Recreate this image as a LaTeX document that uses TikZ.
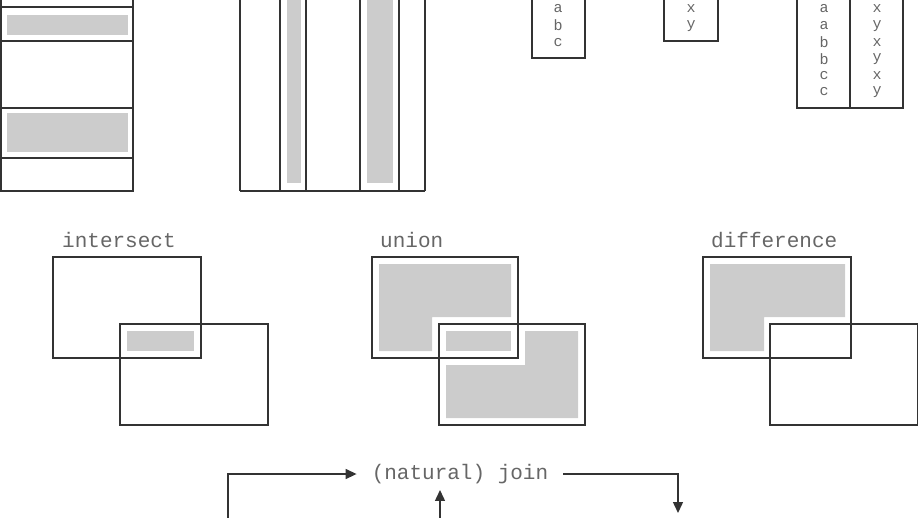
\documentclass[tikz,border=0pt]{standalone}
\usepackage{fontspec}
\setmonofont{Liberation Mono}
\usetikzlibrary{arrows.meta}

\tikzset{
    rel/.style={draw=black!80, line width=1.4pt},
    hatch/.style={fill=gray!40},
    word/.style={font=\ttfamily\fontsize{21}{21}\selectfont, text=black!60, inner sep=0pt},
    cell/.style={font=\ttfamily\fontsize{15}{15}\selectfont, text=black!60, inner sep=0pt},
    conn/.style={draw=black!80, line width=1.4pt, -{Triangle[length=11pt, width=10pt]}}
}

\begin{document}
\begin{tikzpicture}[x=1pt, y=-1pt]
    \useasboundingbox (0,0) rectangle (918,517);
    \clip (0,0) rectangle (918,517);

    % select
    \fill[hatch] (7,15) rectangle (128,35);
    \fill[hatch] (7,113) rectangle (128,152);
    \draw[rel] (1,-5) -- (1,191) -- (133,191) -- (133,-5);
    \foreach \y in {7,41,108,158}
        \draw[rel] (1,\y) -- (133,\y);

    % project
    \fill[hatch] (287,-5) rectangle (301,183);
    \fill[hatch] (367,-5) rectangle (393,183);
    \draw[rel] (240,191) -- (425,191);
    \foreach \x in {240,280,306,360,399,425}
        \draw[rel] (\x,-5) -- (\x,191);

    % product
    \draw[rel] (532,-5) |- (585,58) -- (585,-5);
    \draw[rel] (664,-5) |- (718,41) -- (718,-5);
    \draw[rel] (797,-5) |- (903,108) -- (903,-5);
    \draw[rel] (850,-5) -- (850,108);
    \foreach \t [count=\i] in {a,b,c}
        \node[cell] (pa\i) at (558,{9+16.6*(\i-1)}) {\t};
    \foreach \t [count=\i] in {x,y}
        \node[cell] (pb\i) at (691,{9+16.6*(\i-1)}) {\t};
    \foreach \t [count=\i] in {a,a,b,b,c,c}
        \node[cell] (pl\i) at (824,{9+16.6*(\i-1)}) {\t};
    \foreach \t [count=\i] in {x,y,x,y,x,y}
        \node[cell] (pr\i) at (877,{9+16.6*(\i-1)}) {\t};

    % intersect
    \node[word, anchor=west] (inter) at (62,240) {intersect};
    \fill[hatch] (127,331) rectangle (194,351);
    \draw[rel] (53,257) rectangle (201,358);
    \draw[rel] (120,324) rectangle (268,425);

    % union
    \node[word, anchor=west] (union) at (380,240) {union};
    \fill[hatch] (379,264) -- (511,264) -- (511,317) -- (432,317) -- (432,351) -- (379,351) -- cycle;
    \fill[hatch] (446,331) rectangle (511,351);
    \fill[hatch] (525,331) -- (578,331) -- (578,418) -- (446,418) -- (446,365) -- (525,365) -- cycle;
    \draw[rel] (372,257) rectangle (518,358);
    \draw[rel] (439,324) rectangle (585,425);

    % difference
    \node[word, anchor=west] (diff) at (711,240) {difference};
    \fill[hatch] (710,264) -- (845,264) -- (845,317) -- (764,317) -- (764,351) -- (710,351) -- cycle;
    \draw[rel] (703,257) rectangle (851,358);
    \draw[rel] (770,324) rectangle (918,425);

    % join
    \node[word, inner xsep=15pt, inner ysep=6pt] (join) at (460,474) {(natural) join};
    \coordinate (jl) at (228,520);
    \coordinate (jm) at (440,520);
    \coordinate (jr) at (678,513);
    \draw[conn] (jl) |- (join.west);
    \draw[conn] (jm) -- (jm |- join.south);
    \draw[conn] (join.east) -| (jr);
\end{tikzpicture}
\end{document}
